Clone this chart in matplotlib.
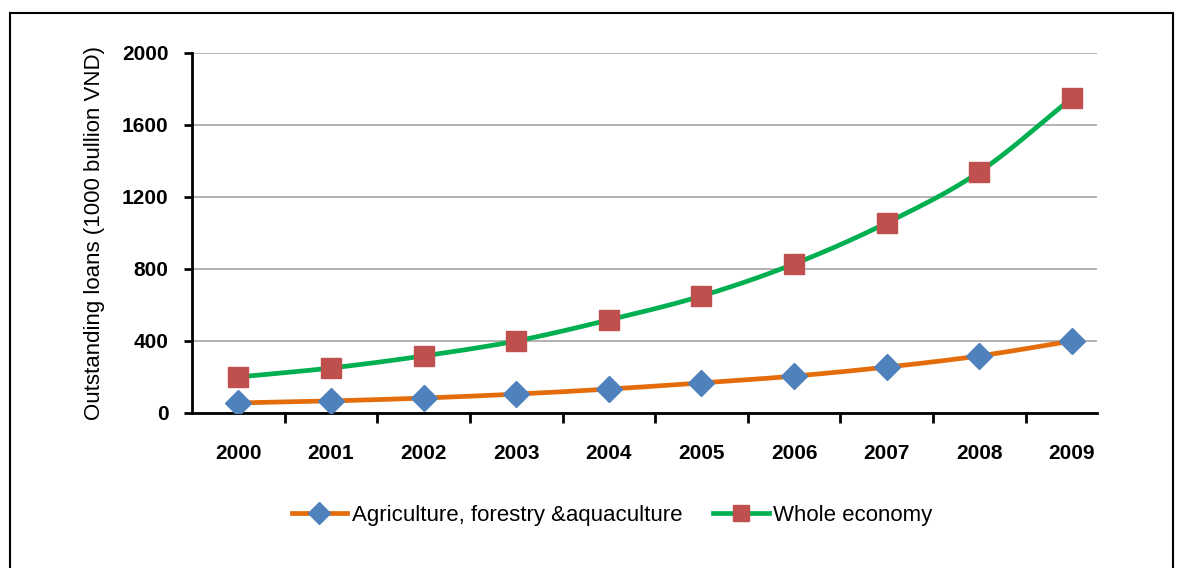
import matplotlib.pyplot as plt
import numpy as np
from matplotlib.patches import Rectangle
from matplotlib.ticker import FixedLocator

plt.rcParams['font.family'] = ['Liberation Sans', 'DejaVu Sans']

years = ['2000', '2001', '2002', '2003', '2004', '2005', '2006', '2007', '2008', '2009']
agriculture = [56, 67, 83, 105, 133, 167, 205, 255, 317, 400]
whole_economy = [200, 250, 317, 400, 517, 650, 828, 1056, 1339, 1750]


def smooth(xs, ys, steps=20):
    # Catmull-Rom curve through the points, like a spreadsheet "smoothed line"
    xs = np.asarray(xs, float)
    ys = np.asarray(ys, float)
    px = np.concatenate([[2 * xs[0] - xs[1]], xs, [2 * xs[-1] - xs[-2]]])
    py = np.concatenate([[2 * ys[0] - ys[1]], ys, [2 * ys[-1] - ys[-2]]])
    out_x, out_y = [], []
    t = np.linspace(0, 1, steps)
    for i in range(1, len(px) - 2):
        for p, out in ((px, out_x), (py, out_y)):
            p0, p1, p2, p3 = p[i - 1], p[i], p[i + 1], p[i + 2]
            out.extend(0.5 * ((2 * p1) + (-p0 + p2) * t
                              + (2 * p0 - 5 * p1 + 4 * p2 - p3) * t ** 2
                              + (-p0 + 3 * p1 - 3 * p2 + p3) * t ** 3))
    return out_x, out_y


fig = plt.figure(figsize=(11.89, 5.68), dpi=100)
ax = fig.add_axes([0.1615, 0.2729, 0.7611, 0.6338])

x = np.arange(len(years))

# outer chart border
fig.patches.append(Rectangle((10 / 1189, -0.05), 1163 / 1189, 1.05 - 13 / 568,
                             transform=fig.transFigure, fill=False,
                             edgecolor='black', linewidth=1.5))

sx, sy = smooth(x, agriculture)
ax.plot(sx, sy, color='#E46C0A', linewidth=3.4, zorder=3)
ax.plot(x, agriculture, linestyle='none', marker='D', markersize=13,
        color='#4F81BD', zorder=4)
sx, sy = smooth(x, whole_economy)
ax.plot(sx, sy, color='#00B050', linewidth=3.4, zorder=3)
ax.plot(x, whole_economy, linestyle='none', marker='s', markersize=14,
        color='#C0504D', zorder=4)

ax.set_ylim(0, 2000)
ax.set_yticks([0, 400, 800, 1200, 1600, 2000])
ax.set_xlim(-0.5, 9.27)
ax.set_xticks(x)
ax.set_xticklabels(years)
ax.xaxis.set_minor_locator(FixedLocator(x[:-1] + 0.5))

ax.grid(axis='y', color='#A6A6A6', linewidth=1.2)
ax.set_axisbelow(True)
for side in ('top', 'right'):
    ax.spines[side].set_visible(False)
for side in ('left', 'bottom'):
    ax.spines[side].set_linewidth(2)

ax.tick_params(axis='y', length=6, width=2, pad=11, labelsize=15)
ax.tick_params(axis='x', which='major', length=0, pad=22, labelsize=15)
ax.tick_params(axis='x', which='minor', length=7, width=2)
for lab in ax.get_xticklabels() + ax.get_yticklabels():
    lab.set_fontweight('bold')

ax.set_ylabel('Outstanding loans (1000 bullion VND)', fontsize=16, labelpad=12)

h1 = plt.Line2D([], [], color='#E46C0A', linewidth=3.4, marker='D',
                markersize=11, markerfacecolor='#4F81BD', markeredgecolor='#4F81BD')
h2 = plt.Line2D([], [], color='#00B050', linewidth=3.4, marker='s',
                markersize=12, markerfacecolor='#C0504D', markeredgecolor='#C0504D')
fig.legend([h1, h2], ['Agriculture, forestry &aquaculture', 'Whole economy'],
           loc='center', bbox_to_anchor=(612 / 1189, 1 - 515 / 568), ncol=2,
           frameon=False, fontsize=16, handlelength=2.5, handletextpad=0.2,
           columnspacing=1.4)

fig.savefig('out.png', dpi=100)
